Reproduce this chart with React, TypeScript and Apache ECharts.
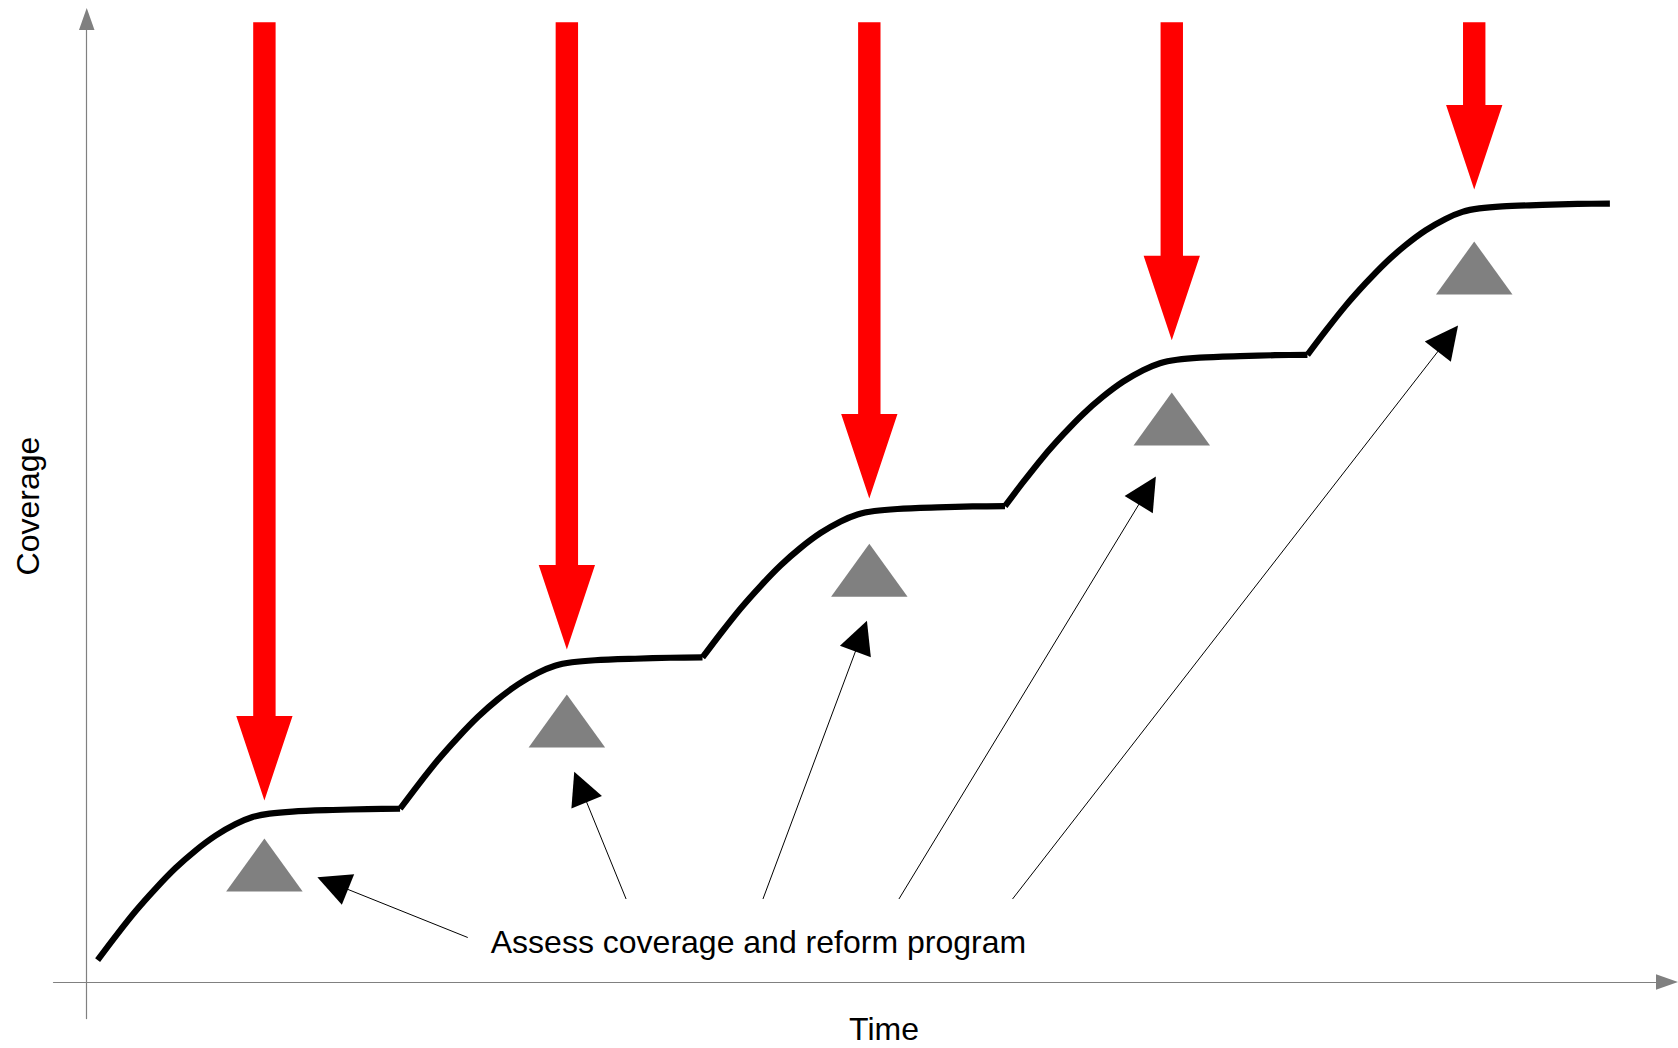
import React, { useEffect, useRef } from "react";
import * as echarts from "echarts";

// Coverage curve, one list of [time, coverage] per programme stage
const stage1 = [[0.36, 2.28], [0.96, 4.77], [1.62, 7.37], [2.28, 9.7], [2.94, 11.83], [3.6, 13.65], [4.27, 15.21], [4.93, 16.4], [5.49, 17.13], [6.05, 17.49], [6.81, 17.7], [8.14, 17.86], [9.3, 17.96], [10.37, 17.99]];
const stage2 = [[10.37, 17.99], [10.97, 20.48], [11.63, 23.08], [12.29, 25.41], [12.95, 27.54], [13.61, 29.36], [14.28, 30.92], [14.94, 32.11], [15.5, 32.84], [16.06, 33.2], [16.82, 33.41], [18.15, 33.57], [19.31, 33.67], [20.38, 33.7]];
const stage3 = [[20.38, 33.7], [20.98, 36.19], [21.64, 38.79], [22.3, 41.12], [22.96, 43.25], [23.62, 45.07], [24.29, 46.63], [24.95, 47.82], [25.51, 48.55], [26.07, 48.91], [26.83, 49.12], [28.16, 49.28], [29.32, 49.38], [30.39, 49.41]];
const stage4 = [[30.39, 49.41], [30.99, 51.9], [31.65, 54.5], [32.31, 56.83], [32.97, 58.96], [33.63, 60.78], [34.3, 62.34], [34.96, 63.53], [35.52, 64.26], [36.08, 64.62], [36.84, 64.83], [38.17, 64.99], [39.33, 65.09], [40.4, 65.12]];
const stage5 = [[40.4, 65.12], [41.0, 67.61], [41.66, 70.21], [42.32, 72.54], [42.98, 74.67], [43.64, 76.49], [44.31, 78.05], [44.97, 79.24], [45.53, 79.97], [46.09, 80.33], [46.85, 80.54], [48.18, 80.7], [49.34, 80.8], [50.41, 80.83]];
const stages = [stage1, stage2, stage3, stage4, stage5];

// Intervention arrows (red) and assessment markers (grey)
const interventionTimes = [5.88, 15.89, 25.9, 35.91, 45.92];
const arrowTipLevels = [18.86, 34.53, 50.2, 66.64, 82.3];
const arrowTopLevel = 99.66;
const assessmentLevels = [12.15, 27.1, 42.77, 58.46, 74.14];

// Pointers from the annotation text to the assessment markers
const pointerStarts = [[12.61, 4.62], [17.85, 8.62], [22.38, 8.62], [26.88, 8.62], [30.64, 8.62]];
const pointerEnds = [[8.14, 10.25], [16.34, 20.25], [25.63, 35.92], [35.1, 51.04], [45.05, 66.82]];

const annotationText = "Assess coverage and reform program";
const annotationPos = [22.23, 4.15];

const xAxisName = "Time";
const yAxisName = "Coverage";

const FONT = "'Liberation Sans', Arial, Helvetica, sans-serif";

export default function App() {
  const ref = useRef<HTMLDivElement>(null);

  useEffect(() => {
    if (!ref.current) return;
    const chart = echarts.init(ref.current, null, { renderer: "svg" });

    const axisColor = "#808080";

    const lineSeries = stages.map((s, i) => ({
      type: "line",
      name: "stage" + (i + 1),
      data: s,
      showSymbol: false,
      symbol: "none",
      smooth: 0.3,
      lineStyle: { color: "#000", width: 6.2, cap: "butt" },
      z: 3,
      silent: true,
    }));

    const axisCommon = {
      type: "value",
      axisTick: { show: false },
      axisLabel: { show: false },
      splitLine: { show: false },
    };

    const option: any = {
      animation: false,
      backgroundColor: "#fff",
      grid: { left: 53.5, right: 11, top: 19, bottom: 29.4, containLabel: false, outerBoundsMode: "none" },
      xAxis: {
        ...axisCommon,
        min: -1.1,
        max: 52.3,
        axisLine: {
          show: true,
          onZero: true,
          symbol: ["none", "triangle"],
          symbolSize: [15.5, 22],
          lineStyle: { color: axisColor, width: 1.2 },
        },
      },
      yAxis: {
        ...axisCommon,
        min: -3.8,
        max: 100,
        axisLine: {
          show: true,
          onZero: true,
          symbol: ["none", "triangle"],
          symbolSize: [15.5, 22],
          lineStyle: { color: axisColor, width: 1.2 },
        },
      },
      graphic: [
        {
          type: "text",
          x: 884,
          y: 1029,
          silent: true,
          style: { text: xAxisName, fontSize: 32, fontFamily: FONT, fill: "#000", align: "center", verticalAlign: "middle" },
        },
        {
          type: "text",
          x: 28,
          y: 506,
          rotation: Math.PI / 2,
          silent: true,
          style: { text: yAxisName, fontSize: 32, fontFamily: FONT, fill: "#000", align: "center", verticalAlign: "middle" },
        },
      ],
      series: [
        ...lineSeries,
        {
          type: "custom",
          name: "interventions",
          silent: true,
          z: 4,
          data: interventionTimes.map((t, i) => [t, arrowTipLevels[i], arrowTopLevel]),
          renderItem: (params: any, api: any) => {
            const x = api.value(0);
            const tip = api.coord([x, api.value(1)]);
            const top = api.coord([x, api.value(2)]);
            const headLen = 84.5;
            const headW = 56.3;
            const shaftW = 22.4;
            const cx = tip[0];
            const neck = tip[1] - headLen;
            return {
              type: "polygon",
              shape: {
                points: [
                  [cx - shaftW / 2, top[1]],
                  [cx + shaftW / 2, top[1]],
                  [cx + shaftW / 2, neck],
                  [cx + headW / 2, neck],
                  [cx, tip[1]],
                  [cx - headW / 2, neck],
                  [cx - shaftW / 2, neck],
                ],
              },
              style: { fill: "#ff0000" },
            };
          },
        },
        {
          type: "scatter",
          name: "assessments",
          silent: true,
          symbol: "triangle",
          symbolSize: [76.5, 53],
          itemStyle: { color: "#808080", opacity: 1 },
          data: interventionTimes.map((t, i) => [t, assessmentLevels[i]]),
          z: 2,
        },
        {
          type: "lines",
          name: "pointers",
          coordinateSystem: "cartesian2d",
          silent: true,
          symbol: ["none", "triangle"],
          symbolSize: [22, 33],
          lineStyle: { color: "#000", width: 1, opacity: 1, curveness: 0 },
          data: pointerStarts.map((s, i) => ({ coords: [s, pointerEnds[i]] })),
          z: 2,
        },
        {
          type: "scatter",
          name: "annotation",
          silent: true,
          symbolSize: 1,
          itemStyle: { color: "rgba(0,0,0,0)", opacity: 1 },
          label: {
            show: true,
            position: "inside",
            formatter: annotationText,
            fontSize: 32,
            color: "#000",
            opacity: 1,
            textBorderWidth: 0,
            fontFamily: FONT,
          },
          data: [annotationPos],
          z: 5,
        },
      ],
    };

    chart.setOption(option);
    return () => chart.dispose();
  }, []);

  return (
    <div
      ref={ref}
      style={{ position: "fixed", left: 0, top: 0, width: "1678px", height: "1048px", background: "#fff" }}
    />
  );
}
